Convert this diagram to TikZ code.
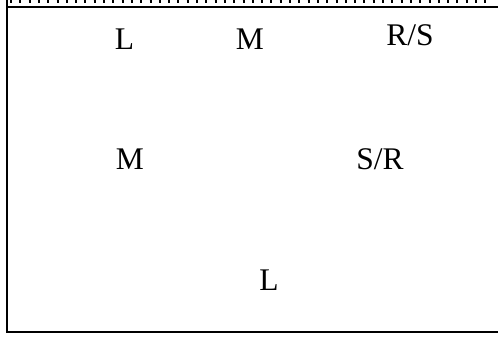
\documentclass[tikz,border=0pt]{standalone}
\usepackage{fontspec}
\setmainfont{Liberation Serif}
\begin{document}
\begin{tikzpicture}[x=1pt,y=-1pt,
  lbl/.style={inner sep=0pt,font=\fontsize{31.5}{36}\selectfont},
  frame/.style={line width=2pt},
  dotline/.style={line width=2.5pt,dash pattern=on 2pt off 7.3pt}]
\useasboundingbox (0,0) rectangle (498,339);
\coordinate (tl) at (7,0);
\coordinate (tr) at (498,7);
\coordinate (bl) at (7,331.5);
\coordinate (br) at (498,331.5);
\coordinate (d1) at (10,1.5);
\coordinate (d2) at (492,1.5);
\draw[dotline] (d1) -- (d2);
\draw[frame] (tl) -- (bl) -- (br);
\draw[frame] (7,7) -- (tr);
\node[lbl,anchor=base] (l1) at (124.5,50) {L};
\node[lbl,anchor=base] (m1) at (250,50) {M};
\node[lbl,anchor=base] (rs) at (410,46) {R/S};
\node[lbl,anchor=base] (m2) at (130,170) {M};
\node[lbl,anchor=base] (sr) at (380,170) {S/R};
\node[lbl,anchor=base] (l2) at (269,290) {L};
\end{tikzpicture}
\end{document}
